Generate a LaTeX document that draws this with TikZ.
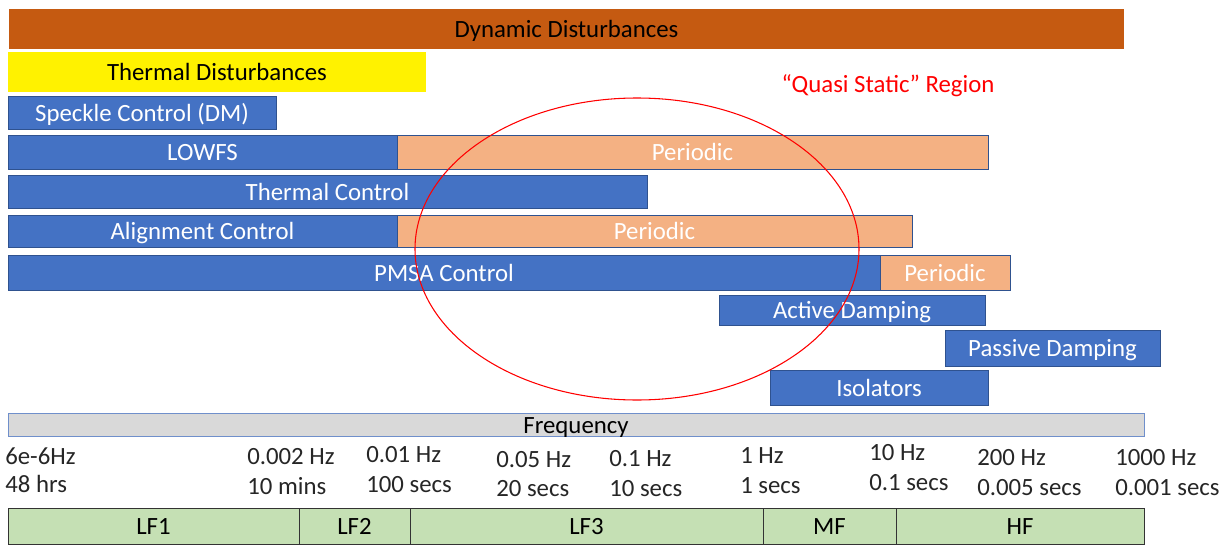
\documentclass[tikz,border=0pt]{standalone}
\usepackage{fontspec}
\setmainfont{Carlito}
\usetikzlibrary{shapes.geometric}
\definecolor{dynbrown}{HTML}{C55A11}
\definecolor{ctrlblue}{HTML}{4472C4}
\definecolor{ctrlborder}{HTML}{2F528F}
\definecolor{peach}{HTML}{F4B183}
\definecolor{freqgray}{HTML}{D9D9D9}
\definecolor{freqborder}{HTML}{6F8FCB}
\definecolor{bandgreen}{HTML}{C5E0B4}
\definecolor{labelgray}{HTML}{262626}
\newcommand\barnode[7]{\node[#6, anchor=north west, minimum width={(#4-#2)*0.75pt}, minimum height={(#5-#3)*0.75pt}] (#1) at (#2,#3) {#7};}
\tikzset{
  barbase/.style={rectangle, inner sep=0pt, outer sep=0pt, text height=13pt, text depth=0pt, font=\fontsize{18.6}{21}\selectfont},
  dynbar/.style={barbase, fill=dynbrown, text=black},
  thermbar/.style={barbase, fill=yellow, text=black},
  ctrlbar/.style={barbase, fill=ctrlblue, draw=ctrlborder, line width=0.6pt, text=white},
  periodbar/.style={barbase, fill=peach, draw=ctrlborder, line width=0.6pt, text=white},
  freqbar/.style={barbase, fill=freqgray, draw=freqborder, line width=0.6pt, text=black},
  bandbar/.style={barbase, fill=bandgreen, draw=black!80, line width=0.6pt, text=black},
  freqlabel/.style={anchor=west, inner sep=0pt, text=labelgray, font=\fontsize{18.6}{21}\selectfont},
}
\begin{document}
\begin{tikzpicture}[x=0.75pt, y=-0.75pt]
\useasboundingbox (0,0) rectangle (1229,546);
\barnode{dyn}{9}{9}{1124}{49}{dynbar}{Dynamic Disturbances}
\barnode{therm}{8}{52}{426}{92}{thermbar}{Thermal Disturbances}
\barnode{speckle}{8}{96}{276}{129}{ctrlbar}{Speckle Control (DM)}
\barnode{lowfs}{8}{135}{397}{169}{ctrlbar}{LOWFS}
\barnode{perA}{397}{135}{988}{169}{periodbar}{Periodic}
\barnode{thctrl}{8}{175}{647}{208}{ctrlbar}{Thermal Control}
\barnode{align}{8}{215}{397}{247}{ctrlbar}{Alignment Control}
\barnode{perB}{397}{215}{912}{247}{periodbar}{Periodic}
\barnode{pmsa}{8}{255}{880}{290}{ctrlbar}{PMSA Control}
\barnode{perC}{880}{255}{1010}{290}{periodbar}{Periodic}
\barnode{active}{719}{295}{985}{325}{ctrlbar}{Active Damping}
\barnode{passive}{945}{330}{1160}{366}{ctrlbar}{Passive Damping}
\barnode{iso}{770}{370}{988}{405}{ctrlbar}{Isolators}
\barnode{freq}{8}{413}{1144}{436}{freqbar}{Frequency}
\barnode{lfone}{8}{508}{299}{544}{bandbar}{LF1}
\barnode{lftwo}{299}{508}{410}{544}{bandbar}{LF2}
\barnode{lfthree}{410}{508}{763}{544}{bandbar}{LF3}
\barnode{mf}{763}{508}{896}{544}{bandbar}{MF}
\barnode{hf}{896}{508}{1144}{544}{bandbar}{HF}
\node[ellipse, draw=red, line width=0.8pt, inner sep=0pt, minimum width={444*0.75pt}, minimum height={302*0.75pt}] (quasi) at (637,249) {};
\node[text=red, inner sep=0pt, font=\fontsize{18.6}{21}\selectfont] (quasilabel) at (888,86) {“Quasi Static” Region};
\node[freqlabel] (fa1) at (5,456) {6e-6Hz};
\node[freqlabel] (fa2) at (5,484) {48 hrs};
\node[freqlabel] (fb1) at (247,457) {0.002 Hz};
\node[freqlabel] (fb2) at (247,486) {10 mins};
\node[freqlabel] (fc1) at (366,455) {0.01 Hz};
\node[freqlabel] (fc2) at (366,485) {100 secs};
\node[freqlabel] (fd1) at (496,460) {0.05 Hz};
\node[freqlabel] (fd2) at (496,489) {20 secs};
\node[freqlabel] (fe1) at (609,459) {0.1 Hz};
\node[freqlabel] (fe2) at (609,489) {10 secs};
\node[freqlabel] (ff1) at (740,456) {1 Hz};
\node[freqlabel] (ff2) at (740,486) {1 secs};
\node[freqlabel] (fg1) at (869,453) {10 Hz};
\node[freqlabel] (fg2) at (869,483) {0.1 secs};
\node[freqlabel] (fh1) at (977,458) {200 Hz};
\node[freqlabel] (fh2) at (977,488) {0.005 secs};
\node[freqlabel] (fi1) at (1115,458) {1000 Hz};
\node[freqlabel] (fi2) at (1115,488) {0.001 secs};
\end{tikzpicture}
\end{document}
